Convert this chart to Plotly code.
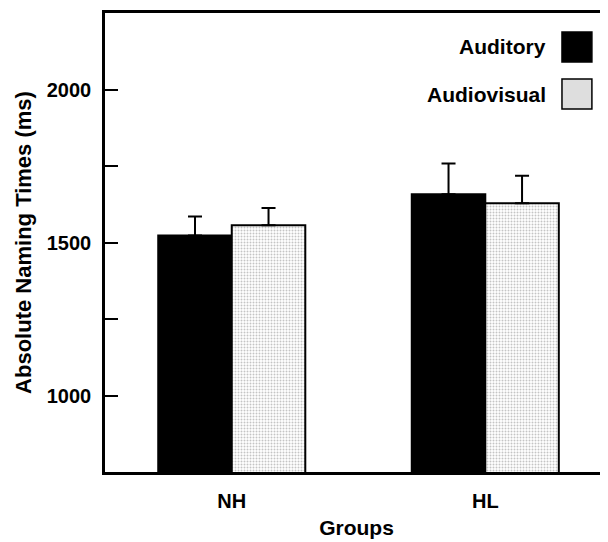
import plotly.graph_objects as go

groups = ["NH", "HL"]
auditory = [1523, 1658]
auditory_err = [62, 100]
audiovisual = [1556, 1628]
audiovisual_err = [57, 90]
ytick_vals = [1000, 1250, 1500, 1750, 2000]
ytick_text = ["1000", "", "1500", "", "2000"]

FONT = "Liberation Sans, Arial, sans-serif"

fig = go.Figure()
fig.add_trace(go.Bar(
    x=groups, y=auditory, name="Auditory",
    marker=dict(color="black", line=dict(color="black", width=2)),
    error_y=dict(type="data", symmetric=False, array=auditory_err,
                 arrayminus=[0, 0], color="black", thickness=2, width=7),
))
fig.add_trace(go.Bar(
    x=groups, y=audiovisual, name="Audiovisual",
    marker=dict(color="white", line=dict(color="black", width=2),
                pattern=dict(shape=".", fgcolor="#8a8a8a", bgcolor="white",
                             size=3, solidity=0.35)),
    error_y=dict(type="data", symmetric=False, array=audiovisual_err,
                 arrayminus=[0, 0], color="black", thickness=2, width=7),
))

# custom legend (text left of swatch)
legend_items = [("Auditory", 0.926, 0.9586, 0.8932, "black"),
                ("Audiovisual", 0.8235, 0.8562, 0.7908, "#dedede")]
for label, ty, y1, y0, col in legend_items:
    fig.add_annotation(text="<b>%s</b>" % label, xref="paper", yref="paper",
                       x=0.8807, y=ty, xanchor="right", yanchor="middle",
                       showarrow=False, font=dict(size=21, color="black", family=FONT))
    fig.add_shape(type="rect", xref="paper", yref="paper",
                  x0=0.9085, x1=0.968, y0=y0, y1=y1,
                  fillcolor=col, line=dict(color="black", width=1.5))

fig.update_layout(
    width=600, height=534,
    margin=dict(l=97, r=0, t=5, b=70),
    plot_bgcolor="white", paper_bgcolor="white",
    barmode="group", bargap=0.42, bargroupgap=0,
    showlegend=False,
    font=dict(family=FONT, color="black"),
    xaxis=dict(
        range=[-0.5, 1.484], showline=True, mirror=True, linecolor="black",
        linewidth=2.5, ticks="", showgrid=False, ticklabelstandoff=9,
        tickfont=dict(size=20, family=FONT),
        title=dict(text="<b>Groups</b>", font=dict(size=21, family=FONT), standoff=10),
    ),
    yaxis=dict(
        range=[750, 2250], showline=True, linecolor="black", linewidth=2.5,
        ticks="inside", ticklen=13, tickwidth=2, tickcolor="black",
        tickvals=ytick_vals, ticktext=["<b>%s</b>" % t if t else "" for t in ytick_text],
        tickfont=dict(size=20, family=FONT), showgrid=False, zeroline=False,
        ticklabelstandoff=7,
        title=dict(text="<b>Absolute Naming Times (ms)</b>", font=dict(size=22, family=FONT),
                   standoff=10),
    ),
)
fig.update_xaxes(tickvals=groups, ticktext=["<b>%s</b>" % g for g in groups])

fig.write_html("out.html")
